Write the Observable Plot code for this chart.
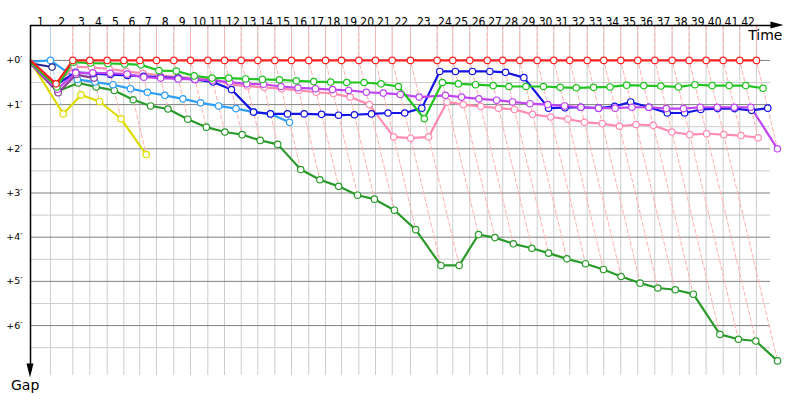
<!DOCTYPE html>
<html><head><meta charset="utf-8">
<script src="https://cdn.jsdelivr.net/npm/d3@7"></script>
<script src="https://cdn.jsdelivr.net/npm/@observablehq/plot@0.6"></script>
<style>
body{margin:0;background:#fff}
#chart{position:relative;width:800px;height:400px}
</style>
</head><body><div id="chart"></div>
<script>
// Leader's elapsed time (minutes) at the end of each lap, lap 0..42
const leaderTimes = [0,1.905,4.03,5.65,7.30,8.89,10.41,12.00,13.65,15.24,16.89,18.48,20.07,21.65,23.27,24.86,26.50,28.10,29.62,31.27,32.86,34.45,36.19,38.73,40.22,41.84,43.50,44.98,46.60,48.26,49.84,51.36,53.02,54.60,56.22,57.84,59.46,61.11,62.73,64.35,65.97,67.55,69.14];
const lapLabels = ["1","2","3","4","5","6","7","8","9","10","11","12","13","14","15","16","17","18","19","20","21","22","23","24","25","26","27","28","29","30","31","32","33","34","35","36","37","38","39","40","41","42"];
const gapTicks = [0,1,2,3,4,5,6];
const gapTickLabels = ["+0′","+1′","+2′","+3′","+4′","+5′","+6′"];
const gapMinor = [0.5,1.5,2.5,3.5,4.5,5.5,6.5];

// Gap to leader (minutes) per lap, starting at lap 0
const gapRed = [0.00,0.53,0,0,0,0,0,0,0,0,0,0,0,0,0,0,0,0,0,0,0,0,0,0,0,0,0,0,0,0,0,0,0,0,0,0,0,0,0,0,0,0,0];
const gapGreen = [0.05,0.60,0.04,0.06,0.07,0.08,0.10,0.23,0.24,0.35,0.40,0.40,0.42,0.43,0.44,0.46,0.48,0.49,0.50,0.50,0.53,0.59,1.32,0.50,0.53,0.55,0.57,0.59,0.59,0.59,0.61,0.62,0.61,0.60,0.56,0.57,0.58,0.60,0.55,0.57,0.57,0.57,0.63];
const gapBlue = [0.07,0.55,0.27,0.30,0.32,0.34,0.36,0.38,0.40,0.43,0.49,0.66,1.17,1.21,1.21,1.21,1.22,1.24,1.23,1.21,1.19,1.19,1.08,0.25,0.25,0.25,0.25,0.27,0.39,1.08,1.07,1.06,1.08,1.04,0.94,1.06,1.19,1.19,1.11,1.09,1.09,1.13,1.08];
const gapLightBlue = [0.03,0.00,0.43,0.49,0.55,0.64,0.72,0.79,0.87,0.96,1.03,1.09,1.17,1.21,1.40];
const gapDarkGreen = [0.10,0.70,0.51,0.60,0.68,0.89,1.03,1.10,1.33,1.51,1.62,1.68,1.81,1.90,2.47,2.70,2.85,3.05,3.14,3.39,3.83,4.64,4.64,3.94,4.01,4.15,4.25,4.36,4.49,4.60,4.73,4.89,5.04,5.15,5.19,5.29,6.20,6.31,6.35,6.80];
const gapYellow = [0.04,1.21,0.78,0.93,1.32,2.13];
const gapPink = [0.06,0.57,0.14,0.16,0.19,0.25,0.29,0.34,0.38,0.40,0.41,0.55,0.58,0.61,0.64,0.68,0.72,0.75,0.83,1.00,1.73,1.76,1.73,0.94,1.00,1.04,1.08,1.11,1.22,1.28,1.33,1.40,1.43,1.49,1.45,1.47,1.62,1.68,1.66,1.68,1.70,1.75];
const gapPurple = [0.08,0.65,0.28,0.28,0.29,0.31,0.38,0.40,0.42,0.43,0.45,0.49,0.53,0.54,0.59,0.62,0.64,0.66,0.68,0.72,0.74,0.77,0.83,0.79,0.83,0.87,0.90,0.94,0.98,1.00,1.03,1.06,1.08,1.08,1.06,1.06,1.09,1.09,1.06,1.06,1.06,1.06,2.00];
const gapNavy = [0.07,0.15];
const gapDarkPurple = [0.09,0.73,0.32,0.40];

const carNames = ["darkgreen","yellow","lightblue","navy","darkpurple","pink","blue","purple","green","red"];
const carGaps = [gapDarkGreen,gapYellow,gapLightBlue,gapNavy,gapDarkPurple,gapPink,gapBlue,gapPurple,gapGreen,gapRed];
const carColors = ["#2a9a2a","#dcdc00","#2f9ef6","#262690","#8c3c96","#ff8cb0","#1414e6","#c044f2","#22c422","#ff2020"];

const rows = [];
carNames.forEach((c, k) => carGaps[k].forEach((g, lap) => rows.push({car: c, lap, gap: g, time: leaderTimes[lap] + g})));

const yTop = -0.79, yBottom = 7.13, xMax = 70.48;

// lap lines: vertical above the leader, then through all cars' points of that lap
const lapLines = [];
for (let lap = 1; lap < leaderTimes.length; lap++) {
  const gs = rows.filter(r => r.lap === lap).map(r => r.gap);
  const gmax = d3.max(gs);
  const leaderCar = rows.filter(r => r.lap === lap && r.gap === 0)[0].car;
  const col = leaderCar === "lightblue" ? "#a8d6ff" : "#ffb0b0";
  lapLines.push({lap, col, time: leaderTimes[lap], gap: yTop});
  lapLines.push({lap, col, time: leaderTimes[lap], gap: 0});
  lapLines.push({lap, col, time: leaderTimes[lap] + gmax, gap: gmax});
}

const font = "DejaVu Sans, Verdana, sans-serif";
const labelFont = "'DejaVu Sans Condensed', 'Liberation Sans', sans-serif";
const chart = Plot.plot({
  width: 800, height: 400,
  marginLeft: 30, marginRight: 30, marginTop: 25, marginBottom: 25,
  style: {fontFamily: font, background: "#fff"},
  x: {domain: [0, xMax], range: [30, 770], axis: null},
  y: {domain: [yTop, yBottom], range: [25, 375], axis: null},
  marks: [
    Plot.ruleX(leaderTimes.slice(1), {x: d => d, y1: yTop, y2: yBottom, stroke: "#cccccc", strokeWidth: 1}),
    Plot.ruleY(gapMinor, {y: d => d, x1: 0, x2: xMax, stroke: "#cccccc", strokeWidth: 1}),
    Plot.ruleY(gapTicks, {y: d => d, x1: 0, x2: xMax, stroke: "#808080", strokeWidth: 1}),
    Plot.line(lapLines, {x: "time", y: "gap", z: "lap", stroke: "col", strokeWidth: 1, strokeDasharray: "4,2.5", curve: "linear"}),
    Plot.text(lapLabels, {x: (d, i) => (leaderTimes[i] + leaderTimes[i + 1]) / 2, frameAnchor: "top", dy: -8, text: d => d, fontSize: 12, fontFamily: labelFont, fill: "#000"}),
    Plot.text(gapTicks, {y: d => d, frameAnchor: "left", dx: -8, textAnchor: "end", text: (d, i) => gapTickLabels[i], fontSize: 9.5, fill: "#000"}),
    ...carNames.map((c, k) => Plot.line(rows.filter(r => r.car === c), {x: "time", y: "gap", stroke: carColors[k], strokeWidth: 2.2})),
    ...carNames.map((c, k) => Plot.dot(rows.filter(r => r.car === c && r.lap > 0), {x: "time", y: "gap", r: 3.2, fill: "#fff", stroke: carColors[k], strokeWidth: 1.2})),
    Plot.ruleY([yTop], {x1: 0, x2: 71.0, stroke: "#000", strokeWidth: 1.5}),
    Plot.ruleX([0], {y1: yTop, y2: 7.05, stroke: "#000", strokeWidth: 1.5})
  ]
});
document.getElementById("chart").appendChild(chart);

// axis arrowheads and axis titles
const sx = chart.scale("x"), sy = chart.scale("y");
const svg = d3.select(chart);
const ax = sx.apply(71.0), ay = sy.apply(yTop);
svg.append("path").attr("d", `M${ax + 8},${ay} L${ax - 5},${ay - 3.5} L${ax - 5},${ay + 3.5} Z`).attr("fill", "#000");
const bx = sx.apply(0), by = sy.apply(7.05);
svg.append("path").attr("d", `M${bx},${by + 6} L${bx - 3.5},${by - 8} L${bx + 3.5},${by - 8} Z`).attr("fill", "#000");
svg.append("text").attr("x", ax + 7).attr("y", ay + 15).attr("text-anchor", "end")
  .style("font-family", font).style("font-size", "14px").style("fill", "#000").text("Time");
svg.append("text").attr("x", 11).attr("y", by + 19).attr("text-anchor", "start")
  .style("font-family", font).style("font-size", "14px").style("fill", "#000").text("Gap");
</script>
</body></html>
